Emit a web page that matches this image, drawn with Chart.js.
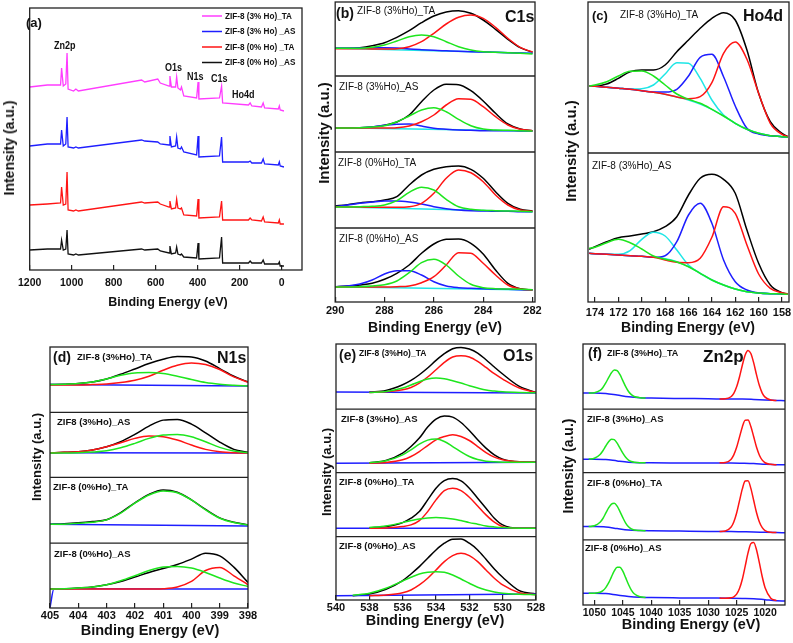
<!DOCTYPE html>
<html>
<head>
<meta charset="utf-8">
<script src="https://cdn.jsdelivr.net/npm/chart.js@4.4.1/dist/chart.umd.min.js"></script>
<style>
  body { margin: 0; width: 793px; height: 643px; position: relative; overflow: hidden; background: #fff;
         font-family: 'Liberation Sans', Arial, sans-serif; color: #111; }
  canvas { position: absolute; }
  .t { position: absolute; white-space: nowrap; line-height: 1; }
</style>
</head>
<body>
<canvas id="pa"></canvas>
<canvas id="pb"></canvas>
<canvas id="pc"></canvas>
<canvas id="pd"></canvas>
<canvas id="pe"></canvas>
<canvas id="pf"></canvas>
<script>
// ---------- (a) survey ----------
const surveyNames = ['ZIF-8 (3% Ho)_TA', 'ZIF-8 (3% Ho) _AS', 'ZIF-8 (0% Ho) _TA', 'ZIF-8 (0% Ho) _AS'];
const surveyTicks = [1200, 1000, 800, 600, 400, 200, 0];
const surveyBE = [1200, 1116, 1053, 1048, 1040, 1028, 1022, 1017, 991, 980, 968, 667, 652, 590, 578, 536, 532, 525, 505, 500,
                  494, 482, 477, 466, 405, 398, 394, 296, 286, 281, 158, 150, 142, 96, 88, 81, 16, 11, 7, -11];
const survey3TA = [183, 185, 185, 202, 184, 186, 217, 181, 179, 181, 179, 190, 188, 191, 187, 184, 194, 183, 183, 193,
                   182, 180, 183, 174, 172, 188, 171, 172, 184, 167, 165, 167, 164, 163, 167, 162, 161, 164, 160, 159];
const survey3AS = [124, 126, 126, 140, 124, 126, 153, 123, 122, 123, 122, 130, 129, 128, 126, 125, 134, 123, 124, 133,
                   122, 121, 123, 118, 115, 134, 113, 114, 133, 108, 108, 109, 107, 107, 111, 106, 105, 108, 104, 103];
const survey0TA = [65, 66, 67, 83, 65, 66, 98, 60, 59, 60, 59, 68, 67, 68, 66, 63, 69, 61, 62, 71,
                   62, 61, 62, 55, 54, 71, 52, 53, 69, 50, 50, 52, 50, 49, 53, 48, 47, 50, 46, 46];
const survey0AS = [20, 21, 21, 30, 20, 21, 40, 16, 15, 16, 15, 21, 20, 21, 19, 17, 24, 16, 17, 23,
                   16, 15, 16, 13, 12, 27, 11, 12, 33, 7, 7, 9, 7, 7, 10, 6, 6, 8, 4, 4];

// ---------- (b) C1s ----------
const c1sTicks = [290, 288, 286, 284, 282];
const c1sBE = [290, 289.5, 289, 288.5, 288, 287.5, 287, 286.5, 286, 285.5, 285, 284.5, 284, 283.5, 283, 282.5, 282];
const c1sBgBE = [290, 282];
const c1s3TA = {
  sum:   [27.7, 27.7, 28.3, 30.3, 33.3, 38.7, 45.3, 53.3, 60, 64, 65.3, 62.7, 56, 46.7, 36.7, 28.3, 23.7],
  red:   [27.3, 27.3, 27.3, 27, 27, 27.3, 29.3, 34.3, 42.7, 52, 58.7, 61, 57.7, 48.7, 37.7, 28.7, 24],
  green: [27.7, 27.7, 27.7, 28.7, 31, 35, 39.3, 41, 39.3, 34.3, 29.3, 26, 24.3, 23.7, 23.3, 22.7, 22],
  blue:  [27.7, 27.8, 28, 28.2, 28.3, 28, 27, 26.3, 25.7, 25.2, 24.7, 24.3, 24, 23.7, 23.3, 23, 22.7],
  bg:    [27.7, 22.7]
};
const c1s3AS = {
  sum:   [24.3, 24.3, 24.3, 25, 26.7, 30, 37, 50.3, 62, 67.7, 67.3, 61.3, 51, 38.7, 28, 23, 21.3],
  red:   [24, 24, 24, 24, 24, 24.3, 26, 30.3, 37, 47, 53.3, 52.7, 45.3, 35.3, 27, 22.7, 21.3],
  green: [24, 24, 24.3, 25, 26.3, 30.3, 36, 42, 44.3, 40.3, 32.7, 26.3, 23, 22, 21.7, 21.3, 21],
  blue:  [24.3, 24.3, 24.3, 25, 26.7, 27.7, 28, 26, 23.7, 22.7, 22, 21.7, 21.3, 21.3, 21.3, 21, 21],
  bg:    [24.3, 21]
};
const c1s0TA = {
  sum:   [22, 23.3, 25, 26.3, 28, 31.3, 43, 53, 58.7, 61.3, 62, 58.7, 49.7, 36.3, 24.7, 18.7, 17],
  red:   [21.3, 21, 21, 20.7, 20.7, 20.7, 21.3, 24.7, 34.7, 49.7, 58, 55.3, 46.3, 33, 23, 18, 16.7],
  green: [21, 21, 21.3, 21.7, 23, 27.3, 35.7, 40.7, 38, 28.7, 21.3, 18.7, 17.7, 17.3, 17, 16.7, 16.3],
  blue:  [21.3, 23, 24.7, 26, 27, 27, 26, 24, 21.3, 19.3, 18, 17.3, 17, 16.7, 16.7, 16.3, 16.3],
  bg:    [21.3, 16.3]
};
const c1s0AS = {
  sum:   [15.3, 16, 17, 18.7, 22.7, 28.7, 37, 48.7, 58, 62.7, 63, 58.7, 48, 32, 18.7, 13.3, 12],
  red:   [15, 15, 15, 15, 15, 15.3, 16, 19.3, 25.3, 37, 49.3, 48.7, 38.7, 27, 17, 13, 12],
  green: [15, 15, 15.3, 16, 17.3, 21, 29.3, 39.3, 42.7, 37, 26, 17.7, 14.3, 13.3, 13, 12.7, 12.3],
  blue:  [15.3, 16, 18, 22, 28, 31.3, 31.3, 27, 20.3, 16, 14.3, 13.7, 13.3, 13, 12.7, 12.3, 12],
  bg:    [15.3, 12]
};

// ---------- (c) Ho4d ----------
const ho4dTicks = [174, 172, 170, 168, 166, 164, 162, 160, 158];
const ho4dBE = [174.5, 174, 173, 172, 171, 170, 169, 168, 167, 166, 165, 164, 163, 162, 161, 160, 159, 158, 157.5];
const ho4d3TA = {
  sum:   [67, 67, 69, 74.7, 81.3, 83, 83, 88, 101.3, 113, 124.7, 134.7, 140.3, 133, 103, 59.7, 31.3, 19.7, 16.3],
  red:   [67, 66.7, 65.7, 64.7, 63.7, 62.3, 60.7, 58.7, 56, 54.3, 56.3, 70.3, 99.7, 111, 93.7, 59.7, 29.7, 18.7, 16.3],
  blue:  [67, 66.7, 65.7, 64.7, 63.7, 62.3, 61, 61, 63.7, 77, 95.7, 98.7, 76.3, 47, 24.7, 19, 17.3, 16.3, 15.7],
  cyan:  [67, 66.7, 65.7, 64.7, 64, 64.3, 68, 79, 90.3, 89.7, 74.7, 53, 38, 29.7, 23.7, 19.7, 17.3, 16.3, 15.7],
  green: [67, 68, 71.3, 77, 81.7, 82, 77, 68, 59, 53.7, 49.7, 43.7, 37, 29.7, 23.7, 19.7, 17.3, 16.3, 15.7],
  bg:    [67, 66.7, 65.7, 64.7, 63.7, 62.3, 60.7, 58.7, 56, 53, 49, 43.7, 37, 29.7, 23.7, 19.7, 17.3, 16.3, 15.7]
};
const ho4d3AS = {
  sum:   [52.7, 55.3, 60.3, 64.3, 66, 68, 70.3, 75.3, 85.3, 107, 123.7, 127.7, 122.7, 108.7, 72, 38.7, 17, 9.3, 8],
  red:   [48.7, 48.3, 47.7, 47, 46.3, 45.7, 44.7, 42, 39.7, 39.3, 43.7, 64.7, 95.3, 88.7, 57, 28, 13.7, 9.3, 8],
  blue:  [48.7, 48.3, 47.7, 47, 46.3, 45.7, 44.7, 46.3, 60.3, 87, 98.7, 78.7, 42, 20.3, 12, 9, 8.3, 8, 7.7],
  cyan:  [48.7, 48.3, 47.7, 47.7, 51.3, 62.7, 69.7, 66, 52, 37, 28.7, 22, 17, 13, 10.3, 9, 8.3, 8, 7.7],
  green: [53.7, 54.7, 59.3, 62.7, 59.3, 53, 46, 42.7, 40, 35.3, 28.7, 22, 17, 13, 10.3, 9, 8.3, 8, 7.7],
  bg:    [48.7, 48.3, 47.7, 47, 46.3, 45.7, 44.7, 43.3, 40.3, 35.3, 28.7, 22, 17, 13, 10.3, 9, 8.3, 8, 7.7]
};

// ---------- (d) N1s ----------
const n1sTicks = [405, 404, 403, 402, 401, 400, 399, 398];
const n1sBE = [405, 404.5, 404, 403.5, 403, 402.5, 402, 401.5, 401, 400.5, 400, 399.5, 399, 398.5, 398];
const n1sBgBE = [405, 398];
const n1sBgEdgeBE = [405, 404.86, 398];
const n1s3TA = {
  sum:   [28, 28.3, 29, 30.6, 33.6, 38.3, 43.6, 49, 53.3, 56, 55.6, 51.6, 44, 36.3, 30.6],
  red:   [27.6, 27.6, 27.6, 28, 28.6, 30, 32.3, 36.3, 42.3, 47.3, 49.6, 48, 43, 35.6, 30.3],
  green: [28, 28.3, 29, 30.6, 33.6, 37.3, 39.6, 40, 39, 36.3, 33, 30, 28.3, 27.3, 26.6],
  blue:  [28, 26.6]
};
const n1s3AS = {
  sum:   [24.6, 25, 25.6, 27.3, 30.6, 35.6, 43, 51.3, 57.3, 58, 53.3, 44.6, 35.3, 28, 25],
  red:   [24.6, 25, 25.6, 27.3, 30.6, 34.6, 39, 41.3, 40.6, 37.3, 32.3, 28, 25.6, 24.6, 24.3],
  green: [24.3, 24.3, 24.6, 25.3, 26.6, 29.6, 34, 39, 42.3, 43, 40.6, 35.6, 30, 26.3, 24.6],
  blue:  [24.6, 24.3]
};
const n1s0TA = {
  sum:   [19, 19.5, 20.4, 21.7, 23.5, 30.6, 40.4, 48.9, 53.2, 51.1, 43.4, 33.8, 25.3, 20.9, 18.3],
  green: [19, 19, 20, 21, 23.3, 30, 40, 48.3, 52.3, 50.6, 43.3, 33.3, 25, 20.6, 18.3],
  blue:  [19, 17.3]
};
const n1s0AS = {
  sum:   [19.3, 19.3, 20, 21, 23.3, 26.6, 31, 35.6, 39.6, 43.6, 49, 55, 52.3, 41, 25.6],
  red:   [19, 19, 19, 19, 19, 19, 19, 19, 19.3, 21, 26.6, 37.6, 40.6, 32.3, 23.3],
  green: [19, 19.3, 20, 21, 23.3, 27.3, 32.3, 37.6, 41, 41.6, 40, 35.6, 30, 25, 21.6],
  blue:  [0.5, 19.3, 19]
};

// ---------- (e) O1s ----------
const o1sTicks = [540, 538, 536, 534, 532, 530, 528];
const o1sBE = [540, 539, 538, 537, 536, 535.5, 535, 534.5, 534, 533.5, 533, 532.5, 532, 531.5, 531, 530.5, 530, 529, 528];
const o1sBgBE = [540, 528];
const o1s3TA = {
  sum:   [null, null, 17, 18.6, 24.3, 28.6, 34.3, 41, 48.6, 55.3, 60.3, 61.6, 60, 56, 49.3, 42, 35, 22.6, 16.6],
  red:   [null, null, 16.6, 17.3, 19.3, 21.6, 26, 32, 39.3, 46.6, 52, 53.3, 52, 47.6, 41.6, 35.3, 30, 21, 16.6],
  green: [null, null, 16.6, 17.6, 21, 24, 27.3, 30, 31, 30.3, 28.3, 26, 23.3, 21, 19, 18, 17.3, 16.6, 16.3],
  blue:  [17, 16]
};
const o1s3AS = {
  sum:   [null, null, 9.7, 12, 19.4, 26, 34.4, 45.4, 53.4, 56.4, 55.4, 50, 42, 32.7, 24.4, 17.7, 13.4, 10.7, 10.4],
  red:   [null, null, 9.4, 10, 12.7, 16, 21, 27, 32.7, 36, 37.7, 36, 32, 26, 20, 15.4, 12.7, 10.7, 10.4],
  green: [null, null, 9.7, 11.7, 17.7, 22.7, 28.4, 32.4, 33.4, 31, 26, 20.7, 16, 13, 11.4, 10.7, 10.4, 10.4, 10.4],
  blue:  [9.4, 10.4]
};
const o1s0TA = {
  sum:   [null, null, 8.7, 10, 14, 18.4, 25, 36.7, 48.4, 56, 58, 55.7, 48.4, 38.4, 28.4, 18.4, 11.7, 8.4, 8.4],
  red:   [null, null, 8.4, 8.7, 10, 11.7, 16, 25, 36.7, 46, 48.4, 46, 39.4, 30.7, 21.7, 14.4, 10, 8.4, 8.4],
  green: [null, null, 9, 10.7, 14, 16, 17.7, 18.7, 19, 18.7, 17.7, 16, 14, 12.4, 10.7, 9.7, 9, 8.4, 8.4],
  blue:  [8.4, 8.4]
};
const o1s0AS = {
  sum:   [null, 4.3, 6, 10.7, 19.3, 26, 33.3, 41.7, 50, 56.7, 60.7, 61, 56.7, 50, 40.7, 31, 22.7, 9.3, 6],
  red:   [null, null, 4.3, 5, 7.3, 10, 15, 21.7, 30, 38.3, 44.3, 46.7, 44.3, 38.3, 30, 21.7, 15, 7.3, 5.3],
  green: [null, 4.7, 6.7, 11.7, 19, 22.7, 26, 27.7, 28.3, 27.7, 25, 21, 16.7, 12.7, 10, 8, 6.7, 5.7, 5.3],
  blue:  [4.3, 6]
};

// ---------- (f) Zn2p ----------
const zn2pTicks = [1050, 1045, 1040, 1035, 1030, 1025, 1020];
const zn2pGreenBE = [1051, 1050, 1049, 1048.5, 1048, 1047.5, 1047, 1046.5, 1046, 1045.5, 1045, 1044.5, 1044, 1043.5, 1043, 1042, 1041];
const zn2pRedBE = [1028, 1027, 1026, 1025.5, 1025, 1024.5, 1024, 1023.5, 1023, 1022.5, 1022, 1021.5, 1021, 1020.5, 1020, 1019, 1018];
const zn2pBgBE = [1052, 1050, 1048, 1046, 1044, 1042, 1040, 1035, 1030, 1026, 1024, 1022, 1020, 1018, 1016.5];
const zn2p3TA = {
  green: [16, 16.4, 18.6, 21.6, 26.1, 31.4, 36.3, 39, 38.4, 34.3, 28.4, 22.4, 17.5, 14.4, 12.6, 11.4, 11.1],
  red:   [10, 10.2, 12.3, 15.7, 22.2, 32, 43.8, 54, 58.6, 55.5, 46.1, 34.1, 23.5, 16, 11.9, 9.1, 8.6],
  blue:  [16, 16, 15.6, 14, 12.3, 11.3, 11, 10.6, 10.3, 10, 10, 9.6, 9, 8.6, 8.3]
};
const zn2p3AS = {
  green: [13.5, 14.3, 18.1, 21.8, 26.5, 30.8, 33.3, 32.8, 29.4, 24.3, 19.3, 15.2, 12.5, 11, 10.3, 9.8, 9.7],
  red:   [9.7, 10, 13.1, 17.7, 25.2, 35.4, 45.6, 52.3, 52.4, 46, 35.7, 25.2, 17.3, 12.4, 9.8, 8.2, 7.8],
  blue:  [13.4, 13.4, 13.1, 11.6, 10.3, 9.8, 9.7, 9.6, 9.5, 9.5, 9.3, 9.0, 8.4, 7.9, 7.7]
};
const zn2p0TA = {
  green: [13.4, 14.1, 17.6, 21.4, 26.7, 32, 35.8, 36.6, 33.7, 28.3, 22.2, 16.8, 13.1, 11, 9.9, 9.3, 9.2],
  red:   [8.5, 8.9, 12.6, 17.9, 26.9, 39, 51, 58.8, 59.1, 51.5, 39.4, 27.2, 17.9, 12.2, 9.3, 7.6, 7.3],
  blue:  [13.3, 13.3, 13, 11.3, 9.8, 9.3, 9.1, 8.8, 8.5, 8.4, 8.2, 8, 7.6, 7.3, 7.2]
};
const zn2p0AS = {
  green: [11.7, 11.8, 12.7, 14.3, 17.4, 22, 28.1, 34, 37.8, 37.7, 33.8, 27.3, 20.5, 14.9, 11.2, 8.2, 7.6],
  red:   [6.9, 6.8, 7.3, 8.2, 10.8, 16.4, 25.7, 38.6, 52, 61.3, 62.5, 55, 42, 28.2, 17.3, 6.8, 4.4],
  blue:  [11.7, 11.7, 11.4, 9.9, 8.5, 7.7, 7.4, 7.1, 6.9, 6.8, 6.6, 6.3, 5.3, 4.3, 4]
};

// ---------- drawing ----------
Chart.defaults.font.family = "'Liberation Sans', Arial, sans-serif";
Chart.defaults.color = '#111';

const COL = { sum: '#000000', red: '#ff1414', green: '#1ee61e', blue: '#1e1eff', cyan: '#1ee6e6', magenta: '#ff3cff' };
const XH = 26;

const xy = (xs, ys) => xs.map((x, i) => ({ x, y: ys[i] }));

// frame + separators between stacked sub-panels
const framePlugin = {
  id: 'frame',
  afterDatasetsDraw(chart) {
    const { ctx, chartArea: a } = chart;
    ctx.save();
    ctx.strokeStyle = '#222';
    ctx.lineWidth = 1.3;
    ctx.strokeRect(a.left, a.top, a.right - a.left, a.bottom - a.top);
    Object.values(chart.scales).forEach(s => {
      if (s.axis === 'y' && s.bottom < a.bottom - 2) {
        ctx.beginPath();
        ctx.moveTo(a.left, s.bottom);
        ctx.lineTo(a.right, s.bottom);
        ctx.stroke();
      }
    });
    ctx.restore();
  }
};

// legend drawn from datasets of the survey chart (condensed text)
const legendPlugin = {
  id: 'insideLegend',
  afterDraw(chart, args, o) {
    if (!o.rows) return;
    const { ctx } = chart;
    const ox = parseFloat(chart.canvas.style.left), oy = parseFloat(chart.canvas.style.top);
    ctx.save();
    ctx.font = "bold 9.5px 'Liberation Sans', Arial, sans-serif";
    ctx.textBaseline = 'middle';
    chart.data.datasets.forEach((ds, i) => {
      const y = o.rows[i] - oy;
      ctx.strokeStyle = ds.borderColor;
      ctx.lineWidth = 1.5;
      ctx.beginPath();
      ctx.moveTo(o.x0 - ox, y);
      ctx.lineTo(o.x1 - ox, y);
      ctx.stroke();
      ctx.save();
      ctx.translate(o.tx - ox, y);
      ctx.scale(0.86, 1);
      ctx.fillStyle = '#111';
      ctx.fillText(ds.label, 0, 0);
      ctx.restore();
    });
    ctx.restore();
  }
};

function makeChart(id, box, xr, ticks, yAxes, datasets, extra) {
  const cv = document.getElementById(id);
  cv.width = box.r - box.l + 32;
  cv.height = box.b - box.t + 3 + XH;
  cv.style.left = (box.l - 16) + 'px';
  cv.style.top = (box.t - 3) + 'px';
  const scales = {
    x: {
      type: 'linear', position: 'bottom', reverse: true, min: xr[0], max: xr[1],
      afterBuildTicks: s => { s.ticks = ticks.map(v => ({ value: v })); },
      afterFit: s => { s.height = XH; },
      border: { display: false },
      grid: { drawOnChartArea: false, drawTicks: true, tickLength: -5, color: '#222', lineWidth: 1.2 },
      ticks: { padding: box.pad, autoSkip: false, maxRotation: 0, color: '#111',
               callback: v => String(v),
               font: { size: box.fs || 11, weight: 'bold' } }
    }
  };
  Object.assign(scales, yAxes);
  return new Chart(cv, {
    type: 'line',
    data: { datasets },
    options: {
      responsive: false, animation: false, devicePixelRatio: 1,
      layout: { padding: { left: 16, right: 16, top: 3, bottom: 0 } },
      elements: { point: { radius: 0 } },
      plugins: { legend: { display: false }, tooltip: { enabled: false }, insideLegend: extra || {} },
      scales
    },
    plugins: [framePlugin, legendPlugin]
  });
}

// stacked fit panel: subs = [{h, curves:[{x, y, col}]}], top sub first.
// The layout stacks the axes bottom-up, so they are declared from the bottom sub-panel.
function fitPanel(id, box, xr, ticks, subs) {
  const yAxes = {}, datasets = [];
  for (let i = subs.length - 1; i >= 0; i--) {
    yAxes['y' + i] = { type: 'linear', display: false, position: 'left', stack: 'fit',
                       stackWeight: subs[i].h, min: 0, max: subs[i].h };
  }
  subs.forEach((s, i) => {
    s.curves.forEach(c => datasets.push({
      data: xy(c.x, c.y), yAxisID: 'y' + i, borderColor: c.col, borderWidth: 1.5,
      cubicInterpolationMode: 'monotone', fill: false
    }));
  });
  return makeChart(id, box, xr, ticks, yAxes, datasets);
}

// component order: first listed is drawn on top
function comps(be, bgBE, d) {
  const out = [];
  if (d.green) out.push({ x: be, y: d.green, col: COL.green });
  if (d.red) out.push({ x: be, y: d.red, col: COL.red });
  if (d.blue) out.push({ x: d.blue.length === be.length ? be : bgBE, y: d.blue, col: COL.blue });
  if (d.cyan) out.push({ x: be, y: d.cyan, col: COL.cyan });
  if (d.bg) out.push({ x: d.bg.length === be.length ? be : bgBE, y: d.bg, col: COL.cyan });
  if (d.sum) out.push({ x: be, y: d.sum, col: COL.sum });
  return out;
}

// (a)
makeChart('pa', { l: 22, t: 8, r: 302, b: 270, pad: 12, fs: 10.5 }, [-97, 1200], surveyTicks,
  { y: { type: 'linear', display: false, min: 0, max: 262 } },
  [survey3TA, survey3AS, survey0TA, survey0AS].map((v, i) => ({
    label: surveyNames[i], data: xy(surveyBE, v),
    borderColor: [COL.magenta, '#1e1eff', '#ff1414', '#111111'][i], borderWidth: 1.3, tension: 0
  })),
  { rows: [16, 31.5, 47, 62.5], x0: 202, x1: 222, tx: 225 });

// (b)
fitPanel('pb', { l: 335, t: 2, r: 535, b: 302, pad: 7 }, [281.9, 290], c1sTicks, [
  { h: 74, curves: comps(c1sBE, c1sBgBE, c1s3TA) },
  { h: 76, curves: comps(c1sBE, c1sBgBE, c1s3AS) },
  { h: 76, curves: comps(c1sBE, c1sBgBE, c1s0TA) },
  { h: 74, curves: comps(c1sBE, c1sBgBE, c1s0AS) }
]);

// (c)
fitPanel('pc', { l: 588, t: 2, r: 789, b: 302, pad: 9.5 }, [157.4, 174.6], ho4dTicks, [
  { h: 151, curves: comps(ho4dBE, ho4dBE, ho4d3TA) },
  { h: 149, curves: comps(ho4dBE, ho4dBE, ho4d3AS) }
]);

// (d)
fitPanel('pd', { l: 50, t: 347, r: 248, b: 608, pad: 6 }, [398, 405], n1sTicks, [
  { h: 65.6, curves: comps(n1sBE, n1sBgBE, n1s3TA) },
  { h: 65, curves: comps(n1sBE, n1sBgBE, n1s3AS) },
  { h: 66, curves: comps(n1sBE, n1sBgBE, n1s0TA) },
  { h: 65, curves: comps(n1sBE, n1sBgEdgeBE, n1s0AS) }
]);

// (e)
fitPanel('pe', { l: 336, t: 344, r: 536, b: 600, pad: 6 }, [528, 540], o1sTicks, [
  { h: 65, curves: comps(o1sBE, o1sBgBE, o1s3TA) },
  { h: 63.4, curves: comps(o1sBE, o1sBgBE, o1s3AS) },
  { h: 64, curves: comps(o1sBE, o1sBgBE, o1s0TA) },
  { h: 63.3, curves: comps(o1sBE, o1sBgBE, o1s0AS) }
]);

// (f) peaks have their own energy windows
function znComps(d) {
  return [
    { x: zn2pGreenBE, y: d.green, col: COL.green },
    { x: zn2pRedBE, y: d.red, col: COL.red },
    { x: zn2pBgBE, y: d.blue, col: COL.blue }
  ];
}
fitPanel('pf', { l: 583, t: 344, r: 785, b: 605, pad: 7, fs: 10.5 }, [1016.5, 1052], zn2pTicks, [
  { h: 65, curves: znComps(zn2p3TA) },
  { h: 63.4, curves: znComps(zn2p3AS) },
  { h: 67.3, curves: znComps(zn2p0TA) },
  { h: 65, curves: znComps(zn2p0AS) }
]);

// ---------- text ----------
function txt(s, x, cy, size, weight, mode) {
  const d = document.createElement('div');
  d.className = 't';
  d.textContent = s;
  d.style.fontSize = size + 'px';
  d.style.fontWeight = weight;
  d.style.left = x + 'px';
  d.style.top = cy + 'px';
  d.style.transformOrigin = '0 50%';
  d.style.transform = mode === 'rot' ? 'translate(-50%,-50%) rotate(-90deg)'
                    : mode === 'c' ? 'translate(-50%,-50%)'
                    : mode === 'n' ? 'translate(0,-50%) scaleX(0.82)' : 'translate(0,-50%)';
  if (mode === 'rot' || mode === 'c') d.style.transformOrigin = '50% 50%';
  document.body.appendChild(d);
}
// (a)
txt('(a)', 26, 22, 13, 'bold');
txt('Zn2p', 54, 45, 11, 'bold', 'n');
txt('O1s', 165, 67, 11, 'bold', 'n');
txt('N1s', 187, 76, 11, 'bold', 'n');
txt('C1s', 211, 78, 11, 'bold', 'n');
txt('Ho4d', 232, 94, 11, 'bold', 'n');
txt('Intensity (a.u.)', 9, 148, 14, 'bold', 'rot');
txt('Binding Energy (eV)', 168, 302, 12.5, 'bold', 'c');
// (b)
txt('(b)', 336, 13, 14, 'bold');
txt('ZIF-8 (3%Ho)_TA', 357, 11, 10, 'normal');
txt('C1s', 505, 17, 16, 'bold');
txt('ZIF-8 (3%Ho)_AS', 339, 87, 10, 'normal');
txt('ZIF-8 (0%Ho)_TA', 338, 163, 10, 'normal');
txt('ZIF-8 (0%Ho)_AS', 339, 239, 10, 'normal');
txt('Intensity (a.u.)', 323, 133, 15, 'bold', 'rot');
txt('Binding Energy (eV)', 435, 327, 14, 'bold', 'c');
// (c)
txt('(c)', 592, 15, 13, 'bold');
txt('ZIF-8 (3%Ho)_TA', 620, 15, 10, 'normal');
txt('Ho4d', 743, 16, 16, 'bold');
txt('ZIF-8 (3%Ho)_AS', 592, 166, 10, 'normal');
txt('Intensity (a.u.)', 570, 151, 15, 'bold', 'rot');
txt('Binding Energy (eV)', 688, 327, 14, 'bold', 'c');
// (d)
txt('(d)', 53, 357, 14, 'bold');
txt('ZIF-8 (3%Ho)_TA', 77, 357, 9.5, 'bold');
txt('N1s', 217, 358, 16, 'bold');
txt('ZIF8 (3%Ho)_AS', 57, 422, 9.5, 'bold');
txt('ZIF-8 (0%Ho)_TA', 53, 487, 9.5, 'bold');
txt('ZIF-8 (0%Ho)_AS', 54, 554, 9.5, 'bold');
txt('Intensity (a.u.)', 36, 457, 13, 'bold', 'rot');
txt('Binding Energy (eV)', 150, 630, 14.5, 'bold', 'c');
// (e)
txt('(e)', 339, 355, 14, 'bold');
txt('ZIF-8 (3%Ho)_TA', 359, 353, 8.5, 'bold');
txt('O1s', 503, 356, 16, 'bold');
txt('ZIF-8 (3%Ho)_AS', 341, 419, 9.5, 'bold');
txt('ZIF-8 (0%Ho)_TA', 339, 482, 9.5, 'bold');
txt('ZIF-8 (0%Ho)_AS', 339, 546, 9.5, 'bold');
txt('Intensity (a.u.)', 326, 472, 13, 'bold', 'rot');
txt('Binding Energy (eV)', 435, 620, 14.5, 'bold', 'c');
// (f)
txt('(f)', 588, 353, 14, 'bold');
txt('ZIF-8 (3%Ho)_TA', 607, 353, 9, 'bold');
txt('Zn2p', 703, 356, 17, 'bold');
txt('ZIF-8 (3%Ho)_AS', 587, 419, 9.5, 'bold');
txt('ZIF-8 (0%Ho)_TA', 587, 483, 9.5, 'bold');
txt('ZIF-8 (0%Ho)_AS', 585, 548, 9.5, 'bold');
txt('Intensity (a.u.)', 568, 466, 14, 'bold', 'rot');
txt('Binding Energy (eV)', 691, 624, 14.5, 'bold', 'c');
</script>
</body>
</html>
